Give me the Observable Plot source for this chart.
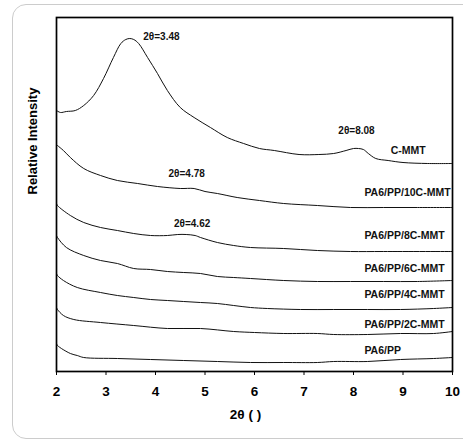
<!DOCTYPE html>
<html>
<head>
<meta charset="utf-8">
<script src="https://cdn.jsdelivr.net/npm/d3@7"></script>
<script src="https://cdn.jsdelivr.net/npm/@observablehq/plot@0.6"></script>
<style>
  html, body { margin: 0; padding: 0; background: #fff; }
  #wrap { position: relative; width: 463px; height: 444px; overflow: hidden; background: #fff; }
  #box { position: absolute; left: 12px; top: 4px; width: 520px; height: 435px; border: 1.5px solid #cccccc; border-radius: 14px; box-sizing: border-box; }
  #chart { position: absolute; left: 0; top: 0; }
</style>
</head>
<body>
<div id="wrap"><div id="box"></div><div id="chart"></div></div>
<script>
// 2θ (degrees) and relative intensity (arbitrary units, stacked offsets as plotted)
const cmmtX = [2.0, 2.08, 2.2, 2.38, 2.55, 2.75, 2.95, 3.15, 3.3, 3.4, 3.48, 3.56, 3.66, 3.84, 4.04, 4.24, 4.5, 4.78, 5.11, 5.45, 5.78, 6.1, 6.4, 6.9, 7.3, 7.6, 7.85, 8.0, 8.1, 8.2, 8.3, 8.45, 8.7, 9.0, 9.5, 10.0];
const cmmtY = [261, 259, 260, 261, 266, 276, 293, 314, 328, 332, 333, 332, 328, 314, 298, 281, 264, 254, 244, 234, 228, 223, 221, 217, 217, 218, 221, 223, 223, 222, 218, 213, 211, 209, 208, 208];

const c10X = [2.0, 2.02, 2.14, 2.28, 2.55, 2.89, 3.23, 3.64, 4.04, 4.5, 4.78, 5.0, 5.25, 5.65, 6.1, 6.59, 7.27, 7.94, 8.61, 9.29, 10.0];
const c10Y = [227, 226, 221, 214, 203, 196, 191, 188, 185, 183, 183, 180, 178, 174, 171, 168, 166, 164, 164, 164, 164];

const c8X = [2.0, 2.02, 2.28, 2.55, 2.89, 3.23, 3.56, 3.9, 4.24, 4.45, 4.62, 4.8, 4.91, 5.25, 5.58, 5.92, 6.59, 7.27, 7.94, 8.61, 10.0];
const c8Y = [168, 166, 156, 149, 144, 141, 138, 136, 136, 137, 137, 136, 134, 129, 126, 124, 123, 121, 120, 120, 120];

const c6X = [2.0, 2.02, 2.2, 2.55, 2.89, 3.23, 3.56, 3.9, 4.24, 4.57, 4.91, 5.25, 5.58, 5.92, 6.59, 7.27, 7.94, 8.61, 9.29, 10.0];
const c6Y = [136, 134, 124, 116, 111, 108, 103, 102, 100, 99, 98, 95, 94, 93, 91, 90, 90, 90, 90, 91];

const c4X = [2.0, 2.02, 2.14, 2.42, 2.89, 3.23, 3.56, 3.9, 4.24, 4.57, 4.91, 5.25, 5.58, 5.92, 6.26, 6.93, 7.6, 8.28, 8.95, 9.62, 10.0];
const c4Y = [98, 96, 91, 84, 79, 76, 74, 72, 71, 70, 69, 68, 66, 64, 63, 62, 62, 62, 62, 63, 64];

const c2X = [2.0, 2.02, 2.14, 2.35, 2.89, 3.56, 4.24, 4.91, 5.58, 6.0, 6.59, 7.27, 7.6, 8.28, 8.95, 9.62, 10.0];
const c2Y = [64, 62, 56, 52, 49, 46, 43, 43, 40, 39, 38, 38, 37, 37, 38, 38, 40];

const ppX = [2.0, 2.02, 2.28, 2.42, 2.55, 3.23, 3.9, 4.57, 5.25, 5.92, 6.59, 7.27, 7.6, 8.28, 8.95, 9.62, 10.0];
const ppY = [28, 26, 18, 16, 14, 13, 12, 11, 10, 9, 9, 9, 10, 10, 12, 13, 14];

const seriesNames = ["C-MMT", "PA6/PP/10C-MMT", "PA6/PP/8C-MMT", "PA6/PP/6C-MMT", "PA6/PP/4C-MMT", "PA6/PP/2C-MMT", "PA6/PP"];
const seriesX = [cmmtX, c10X, c8X, c6X, c4X, c2X, ppX];
const seriesY = [cmmtY, c10Y, c8Y, c6Y, c4Y, c2Y, ppY];

// curve name labels (left-aligned) and peak annotations
const labelX = [8.75, 8.22, 8.22, 8.22, 8.22, 8.22, 8.22];
const labelY = [221, 179, 136, 103, 77, 47, 21];
const peakText = ["2θ=3.48", "2θ=8.08", "2θ=4.78", "2θ=4.62"];
const peakX = [4.12, 8.06, 4.63, 4.74];
const peakY = [335, 241, 198, 148];

const xTicks = [2, 3, 4, 5, 6, 7, 8, 9, 10];

const rows = [];
seriesNames.forEach((name, i) => {
  seriesX[i].forEach((x, j) => rows.push({series: name, x, y: seriesY[i][j]}));
});
const labels = seriesNames.map((name, i) => ({text: name, x: labelX[i], y: labelY[i]}));
const peaks = peakText.map((t, i) => ({text: t, x: peakX[i], y: peakY[i]}));

const font = "'Liberation Sans', Arial, sans-serif";

const chart = Plot.plot({
  width: 463,
  height: 444,
  marginLeft: 56,
  marginRight: 11,
  marginTop: 17,
  marginBottom: 73,
  style: {fontFamily: font, background: "transparent", color: "#000"},
  x: {domain: [2, 10], label: null},
  y: {domain: [0, 354], axis: null},
  marks: [
    Plot.line(rows, {x: "x", y: "y", z: "series", stroke: "#111", strokeWidth: 1, curve: "catmull-rom"}),
    Plot.text(labels, {x: "x", y: "y", text: "text", textAnchor: "start", fontSize: 10.5, fontWeight: "bold", fill: "#111"}),
    Plot.text(peaks, {x: "x", y: "y", text: "text", textAnchor: "middle", fontSize: 10, fontWeight: "bold", fill: "#111"}),
    Plot.axisX({ticks: xTicks, tickFormat: d3.format("d"), tickSize: 4, tickPadding: 11, fontSize: 13.5, fontWeight: "bold", label: null, stroke: "#000"}),
    Plot.text(["2θ ( )"], {frameAnchor: "bottom", dx: -9, dy: 47, fontSize: 13.5, fontWeight: "bold", fill: "#000"}),
    Plot.text(["Relative Intensity"], {frameAnchor: "left", dx: -24, rotate: -90, fontSize: 13, fontWeight: "bold", fill: "#000"}),
    Plot.frame({stroke: "#000", strokeWidth: 1.7})
  ]
});
document.getElementById("chart").appendChild(chart);
</script>
</body>
</html>
